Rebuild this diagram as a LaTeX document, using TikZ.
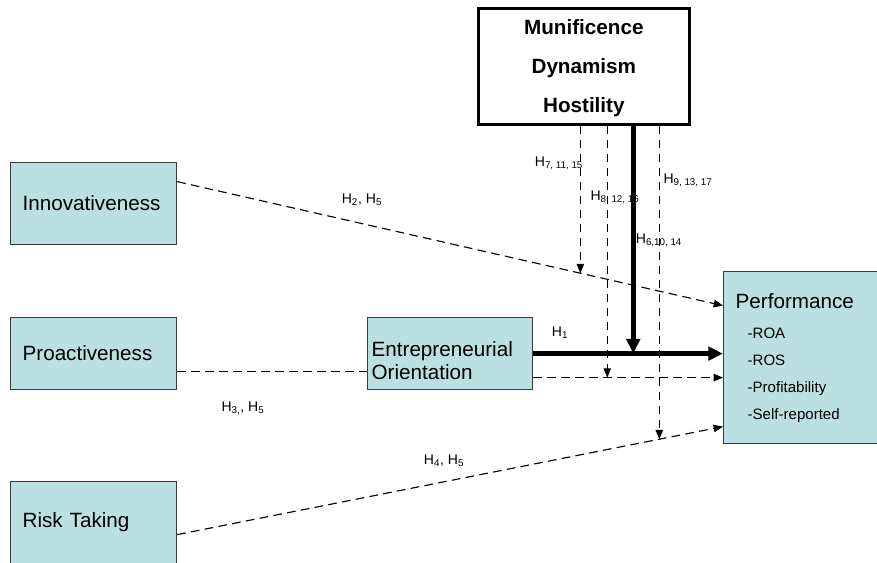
\documentclass[tikz,border=0pt]{standalone}
\usepackage{fontspec}
\setmainfont{Liberation Sans}
\usetikzlibrary{arrows.meta, calc, intersections}
\definecolor{boxblue}{HTML}{BBE0E3}
\definecolor{edgegrey}{HTML}{3A3A3A}
\tikzset{
  box/.style={draw=edgegrey, line width=0.9pt, fill=boxblue, anchor=north west, align=left,
    inner xsep=9pt, inner ysep=0pt, text width=106.5pt, minimum height=61.5pt,
    font=\fontsize{15.5}{17}\selectfont},
  envbox/.style={draw=black, line width=2pt, fill=white, anchor=north west, align=center,
    minimum width=158.25pt, minimum height=87pt, font=\fontsize{15.5}{29}\selectfont\bfseries},
  dashline/.style={draw=black, line width=0.85pt, dash pattern=on 6.5pt off 4pt},
  dasharrow/.style={dashline, -{Triangle[length=7pt, width=5.6pt]}},
  thickarrow/.style={draw=black, line width=3.8pt, -{Triangle[length=11pt, width=10pt]}},
  hyp/.style={font=\fontsize{10.5}{12}\selectfont, inner sep=0pt},
}
\begin{document}
\begin{tikzpicture}[x=0.75pt, y=-0.75pt]
  \clip (0,0) rectangle (877,562);
  % boxes
  \node[envbox] (env) at (477,7) {\rule{0pt}{14pt}Munificence\\Dynamism\\Hostility};
  \node[box] (innov) at (10,162) {Innovativeness};
  \node[box, minimum height=54pt] (pro) at (10,317) {Proactiveness};
  \node[box] (risk) at (10,481) {Risk Taking};
  \node[box, minimum height=54pt, inner xsep=3pt, text width=117.75pt] (eo) at (367,317)
    {\rule{0pt}{21.5pt}Entrepreneurial\\Orientation};
  \node[box, minimum height=129pt, text width=120pt, font=\fontsize{11.3}{20.25}\selectfont] (perf) at (723,271)
    {{\fontsize{15.5}{17}\selectfont Performance}\\[2.25pt]
     \hspace*{9pt}-ROA\\ \hspace*{9pt}-ROS\\ \hspace*{9pt}-Profitability\\ \hspace*{9pt}-Self-reported};
  % ends of the connectors on the box sides
  \coordinate (innovout) at ([yshift=16.5pt]innov.east);
  \coordinate (perfinnov) at ([yshift=39pt]perf.west);
  \coordinate (proout) at ([yshift=-13.5pt]pro.east);
  \coordinate (eoout) at ([yshift=-18pt]eo.east);
  \coordinate (riskout) at ([yshift=-9pt]risk.east);
  \coordinate (perfrisk) at ([yshift=-51.75pt]perf.west);
  \coordinate (m7) at ([xshift=-2.6pt]env.south);
  \coordinate (m8) at ([xshift=17.6pt]env.south);
  \coordinate (m6) at ([xshift=37.1pt]env.south);
  \coordinate (m9) at ([xshift=56.6pt]env.south);
  % direct paths
  \draw[dasharrow, name path=innovline] (innovout) -- (perfinnov);
  \draw[dashline] (proout) -- (proout -| eo.west);
  \draw[thickarrow] (eo.east) -- (eo.east -| perf.west);
  \draw[dasharrow] (eoout) -- (eoout -| perf.west);
  \draw[dasharrow, name path=riskline] (riskout) -- (perfrisk);
  % moderators
  \path[name path=v7] (m7) -- ++(0,300);
  \draw[dasharrow, name intersections={of=v7 and innovline}] (m7) -- (intersection-1);
  \draw[dasharrow] (m8) -- (m8 |- eoout);
  \draw[thickarrow] (m6) -- (m6 |- eo.east);
  \path[name path=v9] (m9) -- ++(0,400);
  \draw[dasharrow, name intersections={of=v9 and riskline}] (m9) -- (intersection-1);
  % hypotheses
  \node[hyp] (h1) at (560,333) {H\textsubscript{1}};
  \node[hyp] (h2) at (362,200) {H\textsubscript{2}, H\textsubscript{5}};
  \node[hyp] (h3) at (243,408) {H\textsubscript{3,}, H\textsubscript{5}};
  \node[hyp] (h4) at (444,461) {H\textsubscript{4}, H\textsubscript{5}};
  \node[hyp] (h6) at (659,240) {H\textsubscript{6,10, 14}};
  \node[hyp] (h7) at (559,163) {H\textsubscript{7, 11, 15}};
  \node[hyp] (h8) at (615,197) {H\textsubscript{8, 12, 16}};
  \node[hyp] (h9) at (688,180) {H\textsubscript{9, 13, 17}};
\end{tikzpicture}
\end{document}
